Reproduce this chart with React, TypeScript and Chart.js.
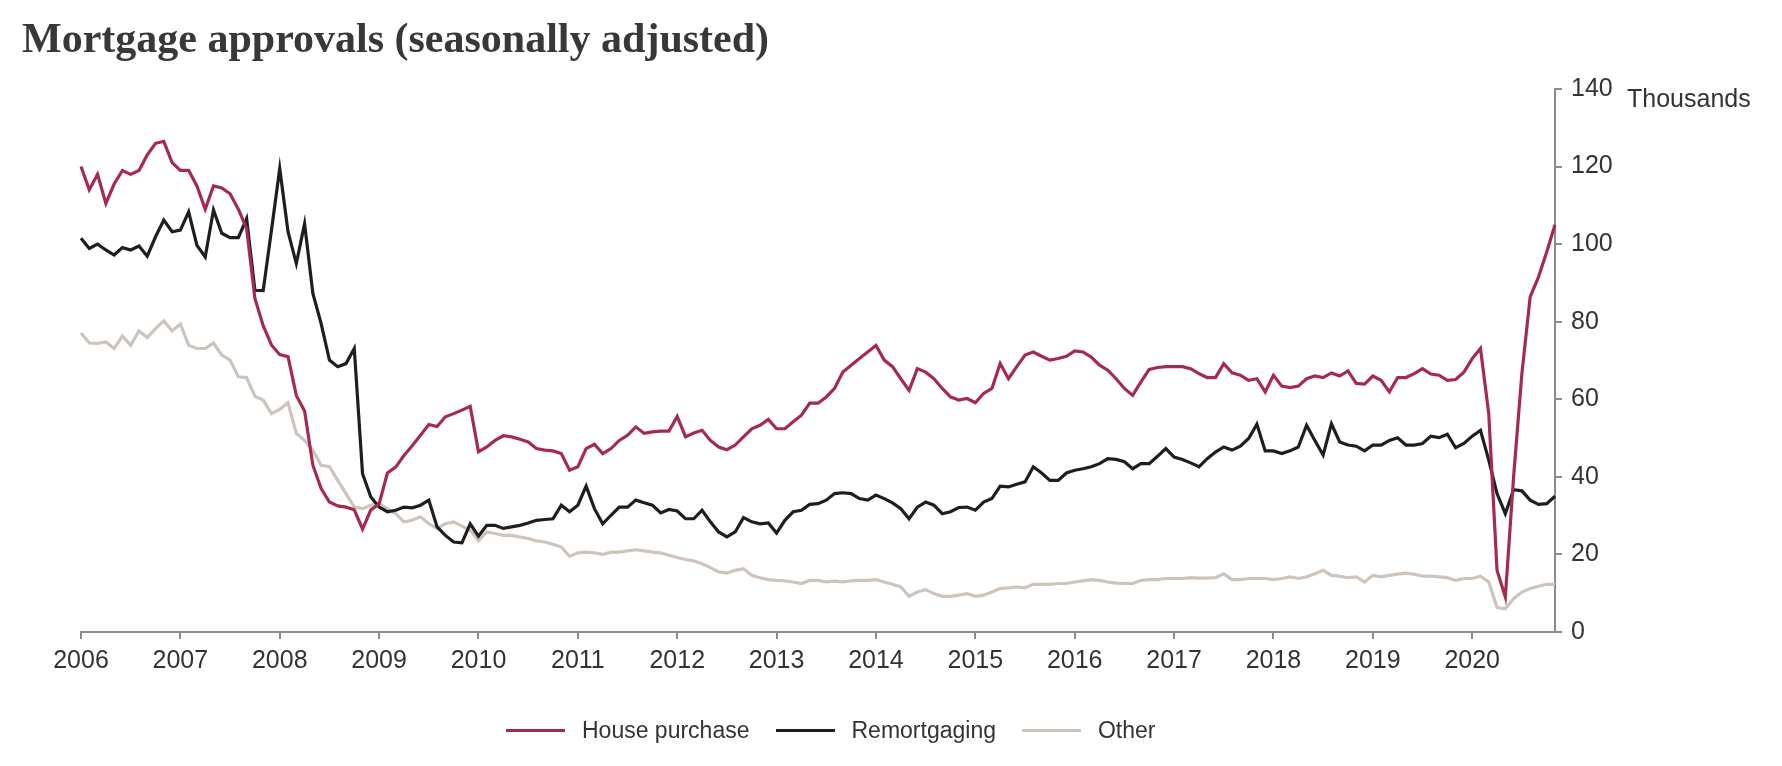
import React, { useEffect, useRef } from "react";
import { Chart, registerables } from "chart.js";

Chart.register(...registerables);

const startYear = 2006;
const yearTicks = ["2006", "2007", "2008", "2009", "2010", "2011", "2012", "2013", "2014", "2015", "2016", "2017", "2018", "2019", "2020"];
const monthNames = ["Jan", "Feb", "Mar", "Apr", "May", "Jun", "Jul", "Aug", "Sep", "Oct", "Nov", "Dec"];

// Monthly, Jan 2006 – Nov 2020 (thousands)
const housePurchase = [
  120, 114, 118, 110.5, 115.5, 119, 118, 119, 123, 126, 126.5, 121,
  119, 119, 115, 109, 115, 114.5, 113, 109, 104, 86, 79, 74,
  71.5, 71, 61, 57, 43, 37, 33.5, 32.5, 32.2, 31.5, 26.5, 31.5,
  33, 41, 42.5, 45.5, 48, 50.7, 53.5, 53, 55.5, 56.3, 57.2, 58.2,
  46.5, 47.7, 49.4, 50.6, 50.3, 49.7, 49, 47.3, 46.9, 46.7, 46, 41.7,
  42.6, 47.3, 48.4, 46, 47.3, 49.4, 50.7, 52.9, 51.2, 51.6, 51.8, 51.8,
  55.6, 50.3, 51.3, 52, 49.4, 47.7, 47, 48.2, 50.3, 52.4, 53.3, 54.8,
  52.4, 52.4, 54.2, 55.9, 59, 59, 60.6, 62.8, 67, 68.8, 70.5, 72.2,
  73.9, 70.1, 68.4, 65.3, 62.3, 67.9, 67, 65.3, 62.8, 60.6, 59.8, 60.2,
  59.1, 61.5, 62.8, 69.2, 65.3, 68.4, 71.4, 72.2, 71.1, 70.1, 70.5, 71.1,
  72.5, 72.2, 70.9, 68.8, 67.5, 65.3, 62.8, 61, 64.5, 67.7, 68.2, 68.4,
  68.4, 68.4, 67.9, 66.6, 65.6, 65.6, 69.2, 66.8, 66.2, 64.9, 65.3, 61.9,
  66.2, 63.4, 63, 63.4, 65.3, 66, 65.6, 66.8, 66, 67.3, 64.1, 63.9,
  66, 64.9, 61.9, 65.6, 65.6, 66.6, 67.9, 66.5, 66.2, 64.9, 65.1, 67,
  70.5, 73.1, 56.3, 15.9, 9, 40, 66.6, 86.4, 91.5, 98, 105,
];

const remortgaging = [
  101.5, 98.9, 100, 98.5, 97.2, 99.1, 98.5, 99.5, 96.9, 101.9, 106.2, 103.2,
  103.6, 108.3, 99.7, 96.7, 108.8, 102.8, 101.7, 101.7, 106.6, 88.1, 88, 103.6,
  119.5, 103.2, 95, 105.3, 87.3, 79.5, 70.1, 68.4, 69.2, 73.1, 40.8, 34.8,
  32.2, 31, 31.4, 32.2, 32, 32.7, 34, 27.1, 24.9, 23.2, 23, 27.9,
  24.7, 27.5, 27.5, 26.7, 27.1, 27.5, 28.1, 28.8, 29, 29.2, 32.7, 31,
  32.7, 37.6, 31.8, 27.9, 30.1, 32.2, 32.2, 34, 33.3, 32.7, 30.7, 31.6,
  31.2, 29.2, 29.2, 31.4, 28.4, 25.8, 24.5, 25.8, 29.5, 28.4, 27.9, 28.1,
  25.5, 28.8, 31, 31.4, 32.9, 33.1, 34, 35.7, 35.9, 35.7, 34.4, 34,
  35.3, 34.4, 33.3, 31.8, 29.2, 32.2, 33.5, 32.7, 30.5, 31, 32.1, 32.2,
  31.4, 33.5, 34.4, 37.6, 37.4, 38.1, 38.7, 42.6, 41, 39.1, 39.1, 41,
  41.7, 42.1, 42.6, 43.4, 44.7, 44.5, 43.9, 42.1, 43.4, 43.4, 45.3, 47.3,
  45.1, 44.5, 43.6, 42.6, 44.7, 46.4, 47.7, 46.9, 47.9, 49.9, 53.6, 46.7,
  46.7, 46, 46.7, 47.7, 53.3, 49.4, 45.6, 53.7, 49, 48.2, 47.9, 46.7,
  48.2, 48.2, 49.4, 50.1, 48.2, 48.2, 48.6, 50.5, 50.1, 51, 47.5, 48.6,
  50.5, 52, 44.3, 35.7, 30.5, 36.7, 36.4, 34, 32.9, 33.1, 35,
];

const other = [
  77.1, 74.5, 74.4, 74.8, 73.1, 76.3, 73.9, 77.6, 75.9, 78.2, 80.2, 77.6,
  79.4, 73.9, 73.1, 73.1, 74.5, 71.4, 70.1, 65.8, 65.6, 60.8, 59.8, 56.3,
  57.4, 59.1, 51.2, 49.4, 46.9, 43, 42.6, 39.1, 35.7, 32.2, 31.8, 32.7,
  33.1, 31.8, 30.5, 28.4, 28.8, 29.7, 27.9, 26.7, 27.9, 28.4, 27.3, 26.2,
  23.5, 25.8, 25.4, 24.9, 24.9, 24.5, 24.1, 23.5, 23.2, 22.6, 21.9, 19.5,
  20.4, 20.6, 20.4, 20, 20.6, 20.6, 20.9, 21.2, 20.9, 20.6, 20.4, 19.8,
  19.2, 18.7, 18.3, 17.6, 16.6, 15.5, 15.2, 15.9, 16.3, 14.6, 14, 13.5,
  13.3, 13.2, 12.9, 12.5, 13.3, 13.3, 12.9, 13.1, 12.9, 13.2, 13.3, 13.3,
  13.5, 12.9, 12.3, 11.6, 9.2, 10.3, 10.9, 9.9, 9.2, 9.2, 9.5, 9.9,
  9.2, 9.5, 10.3, 11.2, 11.4, 11.6, 11.4, 12.3, 12.3, 12.3, 12.5, 12.5,
  12.9, 13.2, 13.5, 13.3, 12.9, 12.6, 12.5, 12.5, 13.3, 13.5, 13.5, 13.8,
  13.8, 13.8, 14, 13.9, 13.9, 14, 15, 13.5, 13.5, 13.8, 13.8, 13.8,
  13.5, 13.8, 14.2, 13.8, 14.2, 15, 15.9, 14.6, 14.4, 14, 14.2, 12.9,
  14.6, 14.2, 14.6, 14.9, 15.2, 14.9, 14.4, 14.4, 14.2, 14, 13.3, 13.8,
  13.8, 14.4, 12.9, 6.3, 6, 8.6, 10.3, 11.2, 11.8, 12.3, 12.3,
];

const seriesNames = ["House purchase", "Remortgaging", "Other"];
const seriesColors = ["#a52a4f", "#1e1e1e", "#cdc5bd"];

const monthLabels = housePurchase.map(
  (_, i) => `${monthNames[i % 12]} ${startYear + Math.floor(i / 12)}`
);

const yTicks = [0, 20, 40, 60, 80, 100, 120, 140];

const AXIS = "#8c8c8c";
const TEXT = "#333333";
const SANS = "'Liberation Sans', Arial, sans-serif";

export default function App() {
  const ref = useRef<HTMLCanvasElement | null>(null);

  useEffect(() => {
    if (!ref.current) return;
    const chart = new Chart(ref.current, {
      type: "line",
      data: {
        labels: monthLabels,
        datasets: [housePurchase, remortgaging, other].map((d, k) => ({
          label: seriesNames[k],
          data: d,
          borderColor: seriesColors[k],
          backgroundColor: seriesColors[k],
          borderWidth: 3.2,
          pointRadius: 0,
          tension: 0,
          fill: false,
        })),
      },
      options: {
        animation: false,
        responsive: false,
        maintainAspectRatio: false,
        devicePixelRatio: 1,
        layout: { padding: { left: 81, top: 89, right: 0, bottom: 0 } },
        plugins: {
          legend: { display: false },
          title: { display: false },
          tooltip: { enabled: false },
        },
        scales: {
          x: {
            type: "category",
            offset: false,
            afterFit: (s: any) => {
              s.height = 134;
            },
            grid: {
              drawOnChartArea: false,
              drawTicks: true,
              tickLength: 7,
              lineWidth: 2,
              color: (ctx: any) => (ctx.index % 12 === 0 ? AXIS : "rgba(0,0,0,0)"),
            },
            border: { display: true, color: AXIS, width: 2 },
            ticks: {
              autoSkip: false,
              maxRotation: 0,
              minRotation: 0,
              padding: 7,
              color: TEXT,
              font: { family: SANS, size: 25 },
              callback: (_v: any, i: number) => (i % 12 === 0 ? yearTicks[i / 12] : ""),
            },
          },
          y: {
            position: "right",
            min: 0,
            max: 140,
            afterFit: (s: any) => {
              s.width = 227;
            },
            afterBuildTicks: (s: any) => {
              s.ticks = yTicks.map((v) => ({ value: v }));
            },
            grid: {
              drawOnChartArea: false,
              drawTicks: true,
              tickLength: 7,
              lineWidth: 2,
              color: AXIS,
            },
            border: { display: true, color: AXIS, width: 2 },
            ticks: {
              padding: 9,
              color: TEXT,
              font: { family: SANS, size: 25 },
            },
          },
        },
      },
    });
    return () => chart.destroy();
  }, []);

  return (
    <div style={{ position: "absolute", left: 0, top: 0, width: 1782, height: 766, background: "#fff" }}>
      <canvas ref={ref} width={1782} height={766} style={{ position: "absolute", left: 0, top: 0, width: 1782, height: 766 }} />
      <div
        style={{
          position: "absolute",
          left: 22,
          top: 17,
          fontFamily: "'Liberation Serif', 'DejaVu Serif', serif",
          fontWeight: 700,
          fontSize: 42,
          lineHeight: "42px",
          color: "#383838",
          whiteSpace: "nowrap",
        }}
      >
        Mortgage approvals (seasonally adjusted)
      </div>
      <div
        style={{
          position: "absolute",
          left: 1627,
          top: 86,
          fontFamily: SANS,
          fontSize: 25,
          lineHeight: "25px",
          color: TEXT,
          whiteSpace: "nowrap",
        }}
      >
        Thousands
      </div>
      <div
        style={{
          position: "absolute",
          left: 506,
          top: 717,
          height: 26,
          display: "flex",
          alignItems: "center",
          gap: 26,
          fontFamily: SANS,
          fontSize: 23,
          color: TEXT,
          whiteSpace: "nowrap",
        }}
      >
        {seriesNames.map((n, k) => (
          <div key={n} style={{ display: "flex", alignItems: "center", gap: 17 }}>
            <div style={{ width: 59, height: 3, background: seriesColors[k] }} />
            <span>{n}</span>
          </div>
        ))}
      </div>
    </div>
  );
}
